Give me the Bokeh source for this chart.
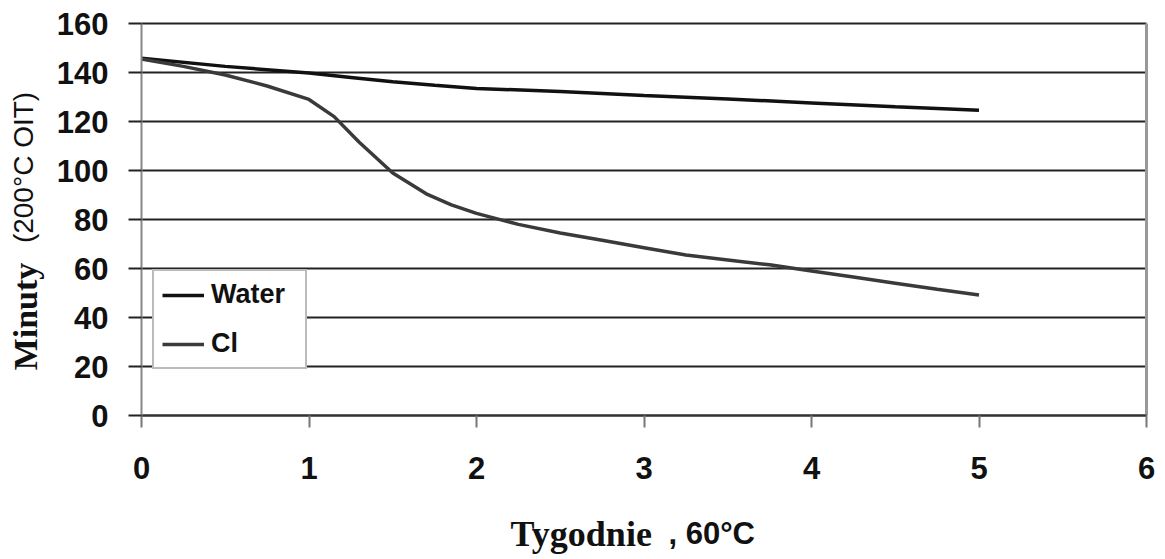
from bokeh.plotting import figure
from bokeh.models import Range1d, FixedTicker, Label, Legend, LegendItem, LinearAxis
from bokeh.embed import file_html
from bokeh.resources import INLINE
import math

# Data
water_x = [0, 0.5, 1.0, 1.25, 1.5, 1.75, 2.0, 2.5, 3.0, 3.5, 4.0, 4.5, 5.0]
water_y = [145.8, 142.5, 139.8, 138.0, 136.2, 134.8, 133.5, 132.2, 130.6, 129.2, 127.6, 126.0, 124.6]

cl_x = [0, 0.25, 0.5, 0.75, 1.0, 1.15, 1.3, 1.5, 1.7, 1.85, 2.0, 2.25, 2.5, 2.75, 3.0,
        3.25, 3.5, 3.75, 4.0, 4.25, 4.5, 4.75, 5.0]
cl_y = [145.5, 142.5, 139.0, 134.5, 129.0, 122.0, 111.5, 99.0, 90.5, 86.0, 82.5, 78.0,
        74.5, 71.5, 68.5, 65.5, 63.5, 61.5, 59.0, 56.5, 54.0, 51.5, 49.2]

x_ticks = [0, 1, 2, 3, 4, 5, 6]
y_ticks = [0, 20, 40, 60, 80, 100, 120, 140, 160]

series_names = ["Water", "Cl"]
x_title_a = "Tygodnie"
x_title_b = ", 60°C"
y_title_a = "Minuty"
y_title_b = "(200°C OIT)"

# layout (pixels): plot area from x=141..1146, y=23..415 in a 1165x559 canvas
W, H = 1165, 559
PX_L, PX_R, PY_T, PY_B = 141, 1146, 23, 415
XMIN, XMAX = x_ticks[0], x_ticks[-1]
YMIN, YMAX = y_ticks[0], y_ticks[-1]
kx = (PX_R - PX_L) / (XMAX - XMIN)
ky = (PY_B - PY_T) / (YMAX - YMIN)

def dx(px):
    return XMIN + (px - PX_L) / kx

def dy(py):
    return YMIN + (PY_B - py) / ky

p = figure(width=W, height=H, output_backend="svg", toolbar_location=None,
           x_range=Range1d(dx(0), dx(W)), y_range=Range1d(dy(H), dy(0)),
           x_axis_location=None, y_axis_location=None,
           min_border_left=0, min_border_right=0, min_border_top=0, min_border_bottom=0)
p.outline_line_color = None
p.background_fill_color = "white"
p.border_fill_color = "white"
p.xgrid.visible = False
p.ygrid.visible = False

# horizontal grid lines across the plot area (from tick values)
p.segment(x0=[XMIN] * len(y_ticks), y0=y_ticks, x1=[XMAX] * len(y_ticks), y1=y_ticks,
          line_color="#222222", line_width=2)
# right vertical line at x = 6
p.segment(x0=[XMAX], y0=[YMIN], x1=[XMAX], y1=[YMAX], line_color="#999999", line_width=3)

r_water = p.line(water_x, water_y, line_color="#111111", line_width=3.5)
r_cl = p.line(cl_x, cl_y, line_color="#3a3a3a", line_width=3.5)

# y axis
yax = LinearAxis(fixed_location=XMIN, bounds=(YMIN, YMAX), ticker=FixedTicker(ticks=y_ticks))
yax.axis_line_color = "#888888"
yax.axis_line_width = 2
yax.major_tick_out = 13
yax.major_tick_in = 0
yax.major_tick_line_color = "#222222"
yax.major_tick_line_width = 2
yax.minor_tick_line_color = None
yax.major_label_text_font = "Liberation Sans"
yax.major_label_text_font_style = "bold"
yax.major_label_text_font_size = "31px"
yax.major_label_text_color = "#111111"
yax.major_label_standoff = 20
p.add_layout(yax, "left")

# x axis
xax = LinearAxis(fixed_location=YMIN, bounds=(XMIN, XMAX), ticker=FixedTicker(ticks=x_ticks))
xax.axis_line_color = "#333333"
xax.axis_line_width = 2
xax.major_tick_out = 12
xax.major_tick_in = 0
xax.major_tick_line_color = "#777777"
xax.major_tick_line_width = 2
xax.minor_tick_line_color = None
xax.major_label_text_font = "Liberation Sans"
xax.major_label_text_font_style = "bold"
xax.major_label_text_font_size = "31px"
xax.major_label_text_color = "#111111"
xax.major_label_standoff = 29
p.add_layout(xax, "below")

legend = Legend(items=[LegendItem(label=series_names[0], renderers=[r_water]),
                       LegendItem(label=series_names[1], renderers=[r_cl])],
                location=(152, H - 369))
legend.label_text_font = "Liberation Sans"
legend.label_text_font_style = "bold"
legend.label_text_font_size = "27px"
legend.label_text_color = "#111111"
legend.label_standoff = 7
legend.label_height = 26
legend.label_width = 86
legend.glyph_height = 26
legend.glyph_width = 42
legend.spacing = 18
legend.padding = 8
legend.margin = 0
legend.border_line_color = "#777777"
legend.border_line_width = 2
legend.background_fill_color = "white"
legend.background_fill_alpha = 1.0
p.add_layout(legend, "center")

p.add_layout(Label(x=dx(510), y=dy(533), text=x_title_a, text_font="Liberation Serif",
                   text_font_style="bold", text_font_size="36px", text_color="#111111",
                   text_align="left", text_baseline="alphabetic"))
p.add_layout(Label(x=dx(668), y=dy(533), text=x_title_b, text_font="Liberation Sans",
                   text_font_style="bold", text_font_size="31px", text_color="#111111",
                   text_align="left", text_baseline="alphabetic"))
p.add_layout(Label(x=dx(25), y=dy(316), text=y_title_a, text_font="Liberation Serif",
                   text_font_style="bold", text_font_size="34px", text_color="#111111",
                   angle=math.pi / 2, text_align="center", text_baseline="alphabetic"))
p.add_layout(Label(x=dx(23), y=dy(167), text=y_title_b, text_font="Liberation Sans",
                   text_font_style="normal", text_font_size="28px", text_color="#111111",
                   angle=math.pi / 2, text_align="center", text_baseline="alphabetic"))

open("out.html", "w").write(file_html(p, INLINE))
